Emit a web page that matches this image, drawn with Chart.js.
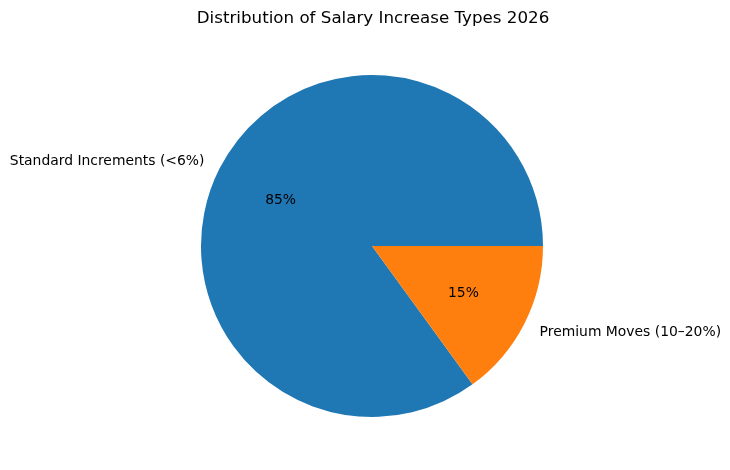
<!DOCTYPE html>
<html>
<head>
<meta charset="utf-8">
<script src="https://cdn.jsdelivr.net/npm/chart.js@4"></script>
<style>
  html, body { margin: 0; padding: 0; background: #ffffff; }
  #wrap { width: 730px; height: 470px; position: relative; }
</style>
</head>
<body>
<div id="wrap"><canvas id="c" width="730" height="470"></canvas></div>
<script>
const title = 'Distribution of Salary Increase Types 2026';
const categories = ['Standard Increments (<6%)', 'Premium Moves (10–20%)'];
const values = [85, 15];
const colors = ['#1f77b4', '#ff7f0e'];

const total = values.reduce((a, b) => a + b, 0);
// matplotlib draws counter-clockwise from 3 o'clock; Chart.js draws clockwise,
// so start where the first slice ends.
const rotation = 90 + 360 * (total - values[0]) / total;

const FONT = "'DejaVu Sans', sans-serif";

const labelPlugin = {
  id: 'pieLabels',
  afterDraw(chart) {
    const ctx = chart.ctx;
    ctx.save();
    ctx.fillStyle = '#000000';
    // title
    ctx.font = '16.7px ' + FONT;
    ctx.textAlign = 'center';
    ctx.textBaseline = 'middle';
    ctx.fillText(title, 373, 18.5);

    const meta = chart.getDatasetMeta(0);
    meta.data.forEach((arc, i) => {
      const p = arc.getProps(['x', 'y', 'startAngle', 'endAngle', 'outerRadius'], true);
      const mid = (p.startAngle + p.endAngle) / 2;
      const cx = Math.cos(mid), cy = Math.sin(mid);
      ctx.font = '13.9px ' + FONT;
      // percent label at 0.6 r
      ctx.textAlign = 'center';
      ctx.textBaseline = 'middle';
      const pct = Math.round(values[i] / total * 100) + '%';
      ctx.fillText(pct, p.x + 0.6 * p.outerRadius * cx, p.y + 0.6 * p.outerRadius * cy + 1);
      // category label at 1.1 r
      ctx.textAlign = cx < 0 ? 'right' : 'left';
      ctx.fillText(categories[i], p.x + 1.1 * p.outerRadius * cx, p.y + 1.1 * p.outerRadius * cy + 1);
    });
    ctx.restore();
  }
};

new Chart(document.getElementById('c'), {
  type: 'pie',
  data: {
    labels: categories,
    datasets: [{
      data: values,
      backgroundColor: colors,
      borderWidth: 0,
      hoverOffset: 0
    }]
  },
  options: {
    responsive: false,
    animation: false,
    rotation: rotation,
    layout: { padding: { top: 75, bottom: 53, left: 201, right: 187 } },
    plugins: {
      legend: { display: false },
      tooltip: { enabled: false },
      title: { display: false }
    }
  },
  plugins: [labelPlugin]
});
</script>
</body>
</html>
